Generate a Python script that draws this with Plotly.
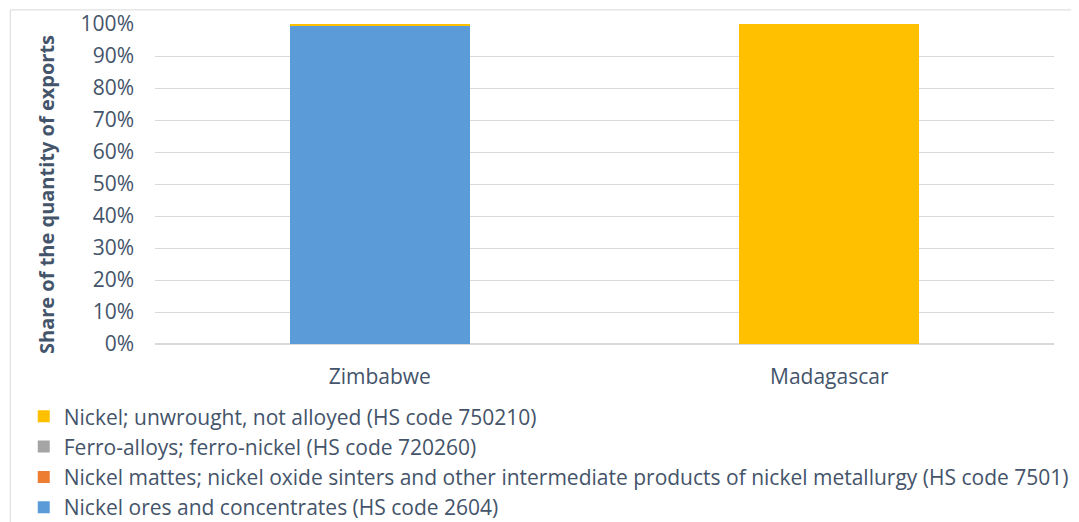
import plotly.graph_objects as go

countries = ["Zimbabwe", "Madagascar"]
ores = [99.5, 0.0]
mattes = [0.0, 0.0]
ferro = [0.0, 0.0]
unwrought = [0.5, 100.0]

series = [
    ("Nickel ores and concentrates (HS code 2604)", ores, "#5A9BD8"),
    ("Nickel mattes; nickel oxide sinters and other intermediate products of nickel metallurgy (HS code 7501)", mattes, "#ED7D31"),
    ("Ferro-alloys; ferro-nickel (HS code 720260)", ferro, "#A5A5A5"),
    ("Nickel; unwrought, not alloyed (HS code 750210)", unwrought, "#FFC000"),
]

fig = go.Figure()
for name, vals, col in series:
    fig.add_trace(go.Bar(x=countries, y=vals, name=name, marker=dict(color=col, line=dict(width=0))))

txt = "#44546A"
fig.update_layout(
    width=1071, height=514,
    barmode="stack", bargap=0.6,
    paper_bgcolor="white", plot_bgcolor="white",
    margin=dict(l=147, r=25, t=16, b=178, autoexpand=False),
    font=dict(family="Open Sans", size=21, color=txt),
    showlegend=True,
    legend=dict(orientation="v", traceorder="reversed", x=-0.146, xanchor="left",
                y=-0.163, yanchor="top", font=dict(size=21, color=txt),
                tracegroupgap=0),
    xaxis=dict(showgrid=False, showline=False, ticks="", ticklabelstandoff=18, automargin=False,
               tickfont=dict(size=21, color=txt)),
    yaxis=dict(range=[0, 100], dtick=10, ticksuffix="%", gridcolor="#D9D9D9", gridwidth=1,
               zeroline=True, zerolinecolor="#D9D9D9", showline=False, ticklabelstandoff=20,
               automargin=False, tickfont=dict(size=21, color=txt)),
    annotations=[dict(text="<b>Share of the quantity of exports</b>", textangle=-90,
                      xref="paper", yref="paper", x=-0.120, y=0.466, xanchor="center", yanchor="middle",
                      showarrow=False, font=dict(size=20, color=txt))],
    shapes=[dict(type="rect", xref="paper", yref="paper", x0=-0.161, x1=1.027, y0=-0.7, y1=1.044,
                 line=dict(color="#D9D9D9", width=1), fillcolor="rgba(0,0,0,0)", layer="below")],
)

fig.write_html("out.html")
